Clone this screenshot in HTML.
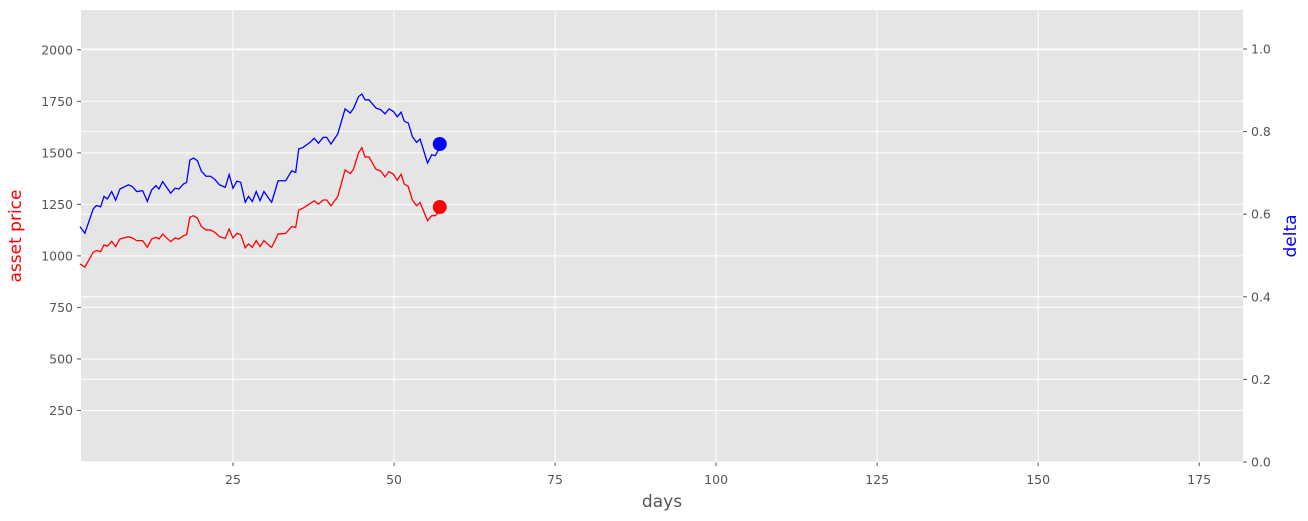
<!DOCTYPE html>
<html><head><meta charset="utf-8"><style>
body{margin:0;background:#fff;}
svg{display:block;font-family:"DejaVu Sans","Liberation Sans",sans-serif;}
</style></head><body>
<svg id="c" width="1308" height="521"></svg>
<script>
const days=[1.24,2.0,3.3,3.8,4.45,4.97,5.5,6.16,6.78,7.45,8.75,9.37,10.04,10.97,11.7,12.37,13.04,13.5,14.08,15.32,16.0,16.6,17.3,17.8,18.3,18.84,19.46,20.1,20.8,21.5,22.2,22.9,23.8,24.4,25.0,25.6,26.2,26.9,27.4,28.0,28.6,29.2,29.8,30.8,31.0,32.0,33.18,34.1,34.73,35.2,35.9,36.96,37.6,38.25,39.0,39.55,40.2,41.25,42.4,43.2,43.7,44.5,45.0,45.5,46.1,47.2,47.93,48.6,49.2,49.9,50.5,51.09,51.6,52.2,52.85,53.5,54.04,55.2,55.85,56.4,56.9];
const price=[961,945,1018,1026,1021,1053,1047,1071,1045,1082,1093,1087,1074,1074,1042,1082,1090,1082,1106,1069,1087,1082,1098,1103,1187,1195,1184,1142,1126,1126,1114,1093,1085,1130,1087,1109,1103,1039,1058,1042,1074,1045,1074,1045,1042,1106,1109,1142,1138,1222,1232,1254,1267,1251,1271,1271,1243,1287,1417,1399,1420,1501,1525,1480,1480,1420,1412,1383,1409,1396,1367,1396,1348,1337,1271,1243,1259,1171,1195,1195,1211];
const delta=[0.570,0.554,0.613,0.621,0.618,0.643,0.637,0.655,0.634,0.661,0.671,0.667,0.655,0.657,0.631,0.659,0.669,0.661,0.679,0.651,0.663,0.661,0.673,0.677,0.731,0.736,0.730,0.704,0.692,0.692,0.684,0.671,0.665,0.696,0.663,0.680,0.677,0.629,0.643,0.631,0.655,0.633,0.655,0.633,0.629,0.681,0.681,0.705,0.701,0.758,0.762,0.774,0.784,0.772,0.786,0.786,0.770,0.794,0.855,0.845,0.856,0.885,0.891,0.877,0.877,0.857,0.853,0.843,0.855,0.849,0.836,0.847,0.825,0.821,0.788,0.774,0.782,0.724,0.744,0.742,0.756];
const lastDay=[57.1];
const lastPrice=[1237];
const lastDelta=[0.770];
const xTicks=[25,50,75,100,125,150,175];
const yTicks=[250,500,750,1000,1250,1500,1750,2000];
const y2Ticks=[0.0,0.2,0.4,0.6,0.8,1.0];

const L=81,R=1243,T=10,B=462;
const X0=1.4,X1=181.8,Y0=0,Y1=2193,D0=0,D1=1.0945;
const sx=v=>L+(v-X0)/(X1-X0)*(R-L);
const sy=v=>B-(v-Y0)/(Y1-Y0)*(B-T);
const sy2=v=>B-(v-D0)/(D1-D0)*(B-T);
const svg=document.getElementById('c');
const NS='http://www.w3.org/2000/svg';
function mk(tag,attrs,parent){const e=document.createElementNS(NS,tag);for(const k in attrs)e.setAttribute(k,attrs[k]);(parent||svg).appendChild(e);return e;}

const bg=mk('rect',{x:L,y:T,width:R-L,height:B-T,fill:'#e5e5e5'});



xTicks.forEach(t=>{
  const x=sx(t);
  const g=mk('line',{x1:x,x2:x,y1:T,y2:B,stroke:'#fff','stroke-width':1});
  
  
  mk('line',{x1:x,x2:x,y1:B,y2:B+4,stroke:'#555','stroke-width':1});
  const tx=mk('text',{x:x,y:B+22,'text-anchor':'middle','font-size':12.5,fill:'#555'});
  tx.textContent=t;
  
  
});
yTicks.forEach(t=>{
  const y=sy(t);
  const g=mk('line',{x1:L,x2:R,y1:y,y2:y,stroke:'#fff','stroke-width':1});
  
  
  mk('line',{x1:L-4,x2:L,y1:y,y2:y,stroke:'#555','stroke-width':1});
  const tx=mk('text',{x:L-8,y:y+4.5,'text-anchor':'end','font-size':12.5,fill:'#555'});
  tx.textContent=t;
  
  
});
y2Ticks.forEach(t=>{
  const y=sy2(t);
  const g=mk('line',{x1:L,x2:R,y1:y,y2:y,stroke:'#fff','stroke-width':1});
  
  
  mk('line',{x1:R,x2:R+4,y1:y,y2:y,stroke:'#555','stroke-width':1});
  const tx=mk('text',{x:R+8,y:y+4.5,'text-anchor':'start','font-size':12.5,fill:'#555'});
  tx.textContent=t.toFixed(1);
  
  
});

const pr=mk('polyline',{points:days.map((d,i)=>sx(d)+','+sy(price[i])).join(' '),fill:'none',stroke:'#ff0000','stroke-width':1.3});


const dl=mk('polyline',{points:days.map((d,i)=>sx(d)+','+sy2(delta[i])).join(' '),fill:'none',stroke:'#0000ff','stroke-width':1.3});


const c1=mk('circle',{cx:sx(lastDay[0]),cy:sy(lastPrice[0]),r:7,fill:'#ff0000'});


const c2=mk('circle',{cx:sx(lastDay[0]),cy:sy2(lastDelta[0]),r:7,fill:'#0000ff'});



const xl=mk('text',{x:(L+R)/2,y:507,'text-anchor':'middle','font-size':17,fill:'#555'});
xl.textContent='days';


const yl=mk('text',{x:0,y:0,'text-anchor':'middle','font-size':17,fill:'#ff0000',transform:'translate(21,'+(T+B)/2+') rotate(-90)'});
yl.textContent='asset price';


const y2l=mk('text',{x:0,y:0,'text-anchor':'middle','font-size':17,fill:'#0000ff',transform:'translate(1296,'+(T+B)/2+') rotate(-90)'});
y2l.textContent='delta';


</script>
</body></html>
